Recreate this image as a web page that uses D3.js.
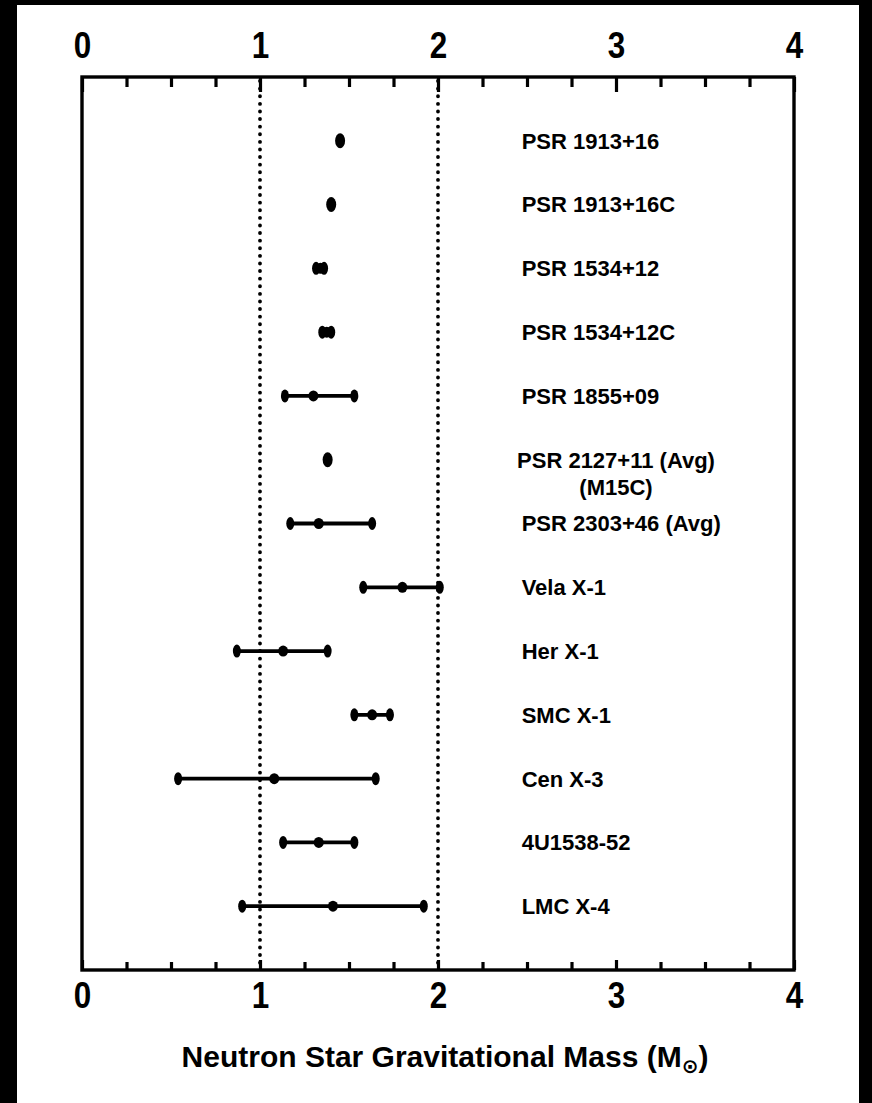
<!DOCTYPE html>
<html>
<head>
<meta charset="utf-8">
<script src="https://cdn.jsdelivr.net/npm/d3@7/dist/d3.min.js"></script>
<style>
  html, body { margin: 0; padding: 0; background: #fff; }
  svg { display: block; }
</style>
</head>
<body>
<svg id="chart" width="872" height="1103"></svg>
<script>
// ---- data ----
const names = ["PSR 1913+16", "PSR 1913+16C", "PSR 1534+12", "PSR 1534+12C", "PSR 1855+09",
  "PSR 2127+11 (Avg)", "PSR 2303+46 (Avg)", "Vela X-1", "Her X-1", "SMC X-1",
  "Cen X-3", "4U1538-52", "LMC X-4"];
const subLabels = ["", "", "", "", "", "(M15C)", "", "", "", "", "", "", ""];
const mass  = [1.45, 1.40, 1.34, 1.375, 1.30, 1.38, 1.33, 1.80, 1.13, 1.63, 1.08, 1.33, 1.41];
const lower = [null, null, 1.315, 1.35, 1.14, null, 1.17, 1.58, 0.87, 1.53, 0.54, 1.13, 0.90];
const upper = [null, null, 1.36, 1.40, 1.53, null, 1.63, 2.01, 1.38, 1.73, 1.65, 1.53, 1.92];
const majorTicks = [0, 1, 2, 3, 4];
const minorTicks = [0.25, 0.5, 0.75, 1.25, 1.5, 1.75, 2.25, 2.5, 2.75, 3.25, 3.5, 3.75];
const refLines = [1, 2];
const xTitle = "Neutron Star Gravitational Mass (M";
const xTitleSub = "\u2299";

const svg = d3.select("#chart");
const W = 872, H = 1103;
const pL = 82, pR = 794, pT = 77, pB = 970;

const x = d3.scaleLinear().domain([0, 4]).range([pL, pR]);
const y = d3.scalePoint().domain(names).range([pT, pB]).padding(1);

// page background and scanner borders
svg.append("rect").attr("width", W).attr("height", H).attr("fill", "#fff");
svg.append("rect").attr("x", 0).attr("y", 0).attr("width", 17).attr("height", H).attr("fill", "#000");
svg.append("rect").attr("x", 0).attr("y", 0).attr("width", W).attr("height", 5).attr("fill", "#000");
svg.append("rect").attr("x", W - 13).attr("y", 0).attr("width", 13).attr("height", H).attr("fill", "#000");

const font = "'Liberation Sans', Arial, Helvetica, sans-serif";

// dotted reference lines
svg.append("g").selectAll("line").data(refLines).join("line")
  .attr("x1", d => x(d)).attr("x2", d => x(d))
  .attr("y1", pT + 4).attr("y2", pB - 4)
  .attr("stroke", "#000").attr("stroke-width", 3.8)
  .attr("stroke-linecap", "round").attr("stroke-dasharray", "0.1,7.5");

// top ticks (pointing inward / down)
const topMinor = svg.append("g").attr("transform", `translate(0,${pT})`)
  .call(d3.axisBottom(x).tickValues(minorTicks).tickSize(10).tickFormat(""));
const topMajor = svg.append("g").attr("transform", `translate(0,${pT})`)
  .call(d3.axisBottom(x).tickValues(majorTicks).tickSize(15).tickFormat(""));
// bottom ticks (pointing inward / up)
const botMinor = svg.append("g").attr("transform", `translate(0,${pB})`)
  .call(d3.axisTop(x).tickValues(minorTicks).tickSize(8).tickFormat(""));
const botMajor = svg.append("g").attr("transform", `translate(0,${pB})`)
  .call(d3.axisTop(x).tickValues(majorTicks).tickSize(10).tickFormat(""));
[topMinor, topMajor, botMinor, botMajor].forEach(g => {
  g.select(".domain").remove();
  g.selectAll(".tick line").attr("stroke", "#000").attr("stroke-width", 3.2);
});

// tick labels
const topLab = svg.append("g").attr("transform", `translate(0,${pT})`)
  .call(d3.axisTop(x).tickValues(majorTicks).tickSize(0).tickPadding(19).tickFormat(d3.format("d")));
const botLab = svg.append("g").attr("transform", `translate(0,${pB})`)
  .call(d3.axisBottom(x).tickValues(majorTicks).tickSize(0).tickPadding(12).tickFormat(d3.format("d")));
[topLab, botLab].forEach(g => {
  g.select(".domain").remove();
  g.selectAll(".tick text").attr("font-family", font).attr("font-weight", "bold")
    .attr("font-size", 37).attr("fill", "#000").attr("transform", "scale(0.85,1)");
});

// frame
svg.append("rect").attr("x", pL).attr("y", pT)
  .attr("width", pR - pL).attr("height", pB - pT)
  .attr("fill", "none").attr("stroke", "#000").attr("stroke-width", 3.4);

// data
const rows = names.map((n, i) => ({ name: n, sub: subLabels[i], m: mass[i], lo: lower[i], hi: upper[i] }));
const gData = svg.append("g");
const withErr = rows.filter(d => d.lo != null);
gData.selectAll("line.err").data(withErr).join("line").attr("class", "err")
  .attr("x1", d => x(d.lo)).attr("x2", d => x(d.hi))
  .attr("y1", d => y(d.name)).attr("y2", d => y(d.name))
  .attr("stroke", "#000").attr("stroke-width", 3.8);
gData.selectAll("ellipse.capL").data(withErr).join("ellipse").attr("class", "capL")
  .attr("cx", d => x(d.lo)).attr("cy", d => y(d.name)).attr("rx", 4).attr("ry", 6.5).attr("fill", "#000");
gData.selectAll("ellipse.capH").data(withErr).join("ellipse").attr("class", "capH")
  .attr("cx", d => x(d.hi)).attr("cy", d => y(d.name)).attr("rx", 4).attr("ry", 6.5).attr("fill", "#000");
gData.selectAll("ellipse.pt").data(rows).join("ellipse").attr("class", "pt")
  .attr("cx", d => x(d.m)).attr("cy", d => y(d.name))
  .attr("rx", 5).attr("ry", d => d.lo == null ? 7.5 : 5.5).attr("fill", "#000");

// labels
const labX = x(2.47);
const labels = svg.append("g").attr("font-family", font).attr("font-weight", "bold")
  .attr("font-size", 22).attr("fill", "#000");
labels.selectAll("text.nm").data(rows.filter(d => !d.sub)).join("text").attr("class", "nm")
  .attr("x", labX).attr("y", d => y(d.name)).attr("dy", "0.36em").text(d => d.name);
const two = rows.filter(d => d.sub);
labels.selectAll("text.nm2").data(two).join("text").attr("class", "nm2")
  .attr("x", x(3.0)).attr("y", d => y(d.name)).attr("dy", "0.36em")
  .attr("text-anchor", "middle").text(d => d.name);
labels.selectAll("text.sub").data(two).join("text").attr("class", "sub")
  .attr("x", x(3.0)).attr("y", d => y(d.name) + 27).attr("dy", "0.36em")
  .attr("text-anchor", "middle").text(d => d.sub);

// axis title
const t = svg.append("text").attr("x", 445).attr("y", 1067)
  .attr("text-anchor", "middle").attr("font-family", font).attr("font-weight", "bold")
  .attr("font-size", 30).attr("fill", "#000");
t.append("tspan").text(xTitle);
t.append("tspan").attr("font-size", 20).attr("dy", 6).attr("font-family", "'DejaVu Sans', sans-serif").text(xTitleSub);
t.append("tspan").attr("dy", -6).text(")");
</script>
</body>
</html>
